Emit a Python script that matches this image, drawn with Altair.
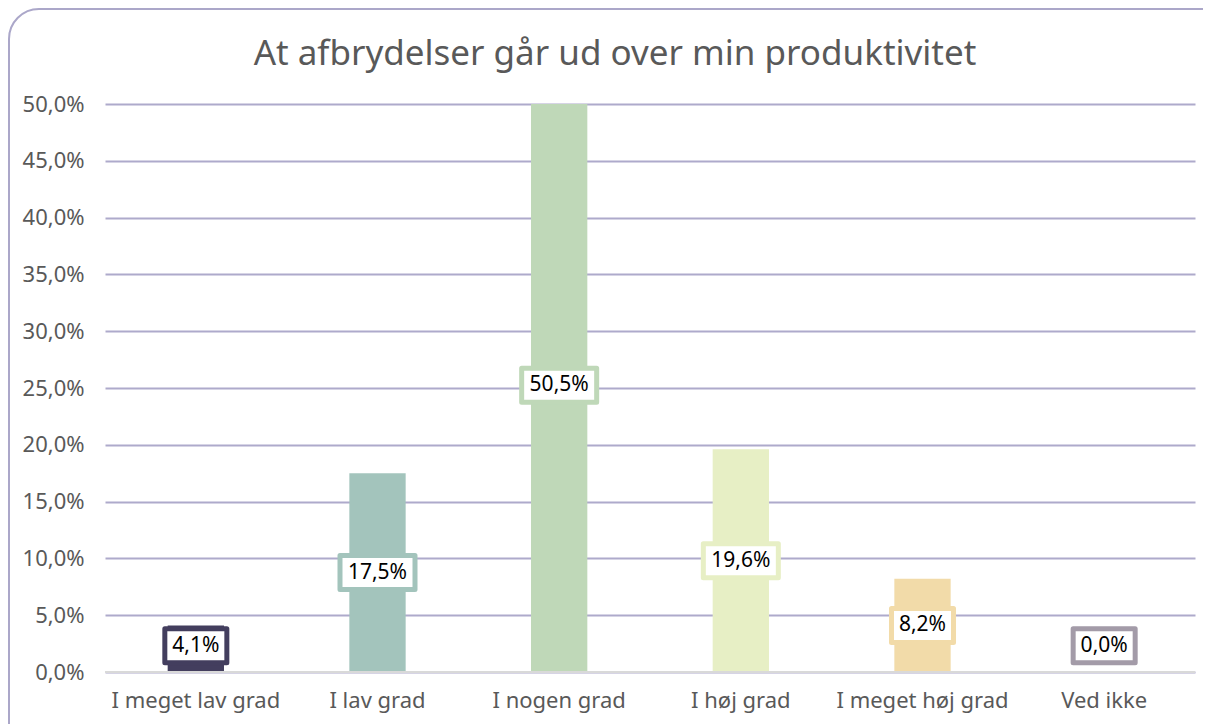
import altair as alt
import pandas as pd

categories = ["I meget lav grad", "I lav grad", "I nogen grad", "I høj grad", "I meget høj grad", "Ved ikke"]
values = [4.1, 17.5, 50.5, 19.6, 8.2, 0.0]
colors = ["#433e5e", "#a3c4bc", "#bfd8b8", "#e7efc5", "#f2dba9", "#a39ba8"]
y_ticks = [0, 5, 10, 15, 20, 25, 30, 35, 40, 45, 50]
title_text = "At afbrydelser går ud over min produktivitet"

FONT = "Noto Sans"
W, H = 1090, 568

df = pd.DataFrame({"cat": categories, "v": values})

xscale = alt.Scale(domain=categories, paddingInner=0.69, paddingOuter=0.345)
yscale = alt.Scale(domain=[0, 50], nice=False)
cscale = alt.Scale(domain=categories, range=colors)

# label boxes: custom rectangle symbols (height 34 + stroke 5)
p4 = "M-1.824,-1 L1.824,-1 L1.824,1 L-1.824,1 Z"
p5 = "M-2.206,-1 L2.206,-1 L2.206,1 L-2.206,1 Z"

base = alt.Chart(df).transform_calculate(
    lab="replace(format(datum.v, '.1f'), '.', ',') + '%'",
    lp="max(datum.v / 2, 2.3)",
).transform_calculate(
    n="toString(length(datum.lab))"
)

bars = base.mark_bar(clip=True).encode(
    x=alt.X("cat:N", scale=xscale, sort=categories,
            axis=alt.Axis(title=None, labelAngle=0, domain=False, ticks=False,
                          labelPadding=18, labelFontSize=22, labelColor="#595959",
                          labelFont=FONT, grid=False)),
    y=alt.Y("v:Q", scale=yscale,
            axis=alt.Axis(title=None, values=y_ticks, domain=False, ticks=False,
                          labelPadding=21, labelFontSize=22, labelColor="#595959",
                          labelFont=FONT, gridColor="#aeaacb", gridWidth=2,
                          labelExpr="replace(format(datum.value, '.1f'), '.', ',') + '%'")),
    color=alt.Color("cat:N", scale=cscale, legend=None),
)

zero = alt.Chart(pd.DataFrame({"z": [0]})).mark_rule(color="#d9d9d9", strokeWidth=2).encode(
    y=alt.Y("z:Q", scale=yscale)
)

boxes = base.mark_point(filled=True, fill="white", opacity=1, fillOpacity=1,
                        strokeWidth=5, size=1156, strokeJoin="round").encode(
    x=alt.X("cat:N", scale=xscale, sort=categories),
    y=alt.Y("lp:Q", scale=yscale),
    stroke=alt.Stroke("cat:N", scale=cscale, legend=None),
    shape=alt.Shape("n:N", scale=alt.Scale(domain=["4", "5"], range=[p4, p5]), legend=None),
)

texts = base.mark_text(fontSize=21, font=FONT, color="black", baseline="middle").encode(
    x=alt.X("cat:N", scale=xscale, sort=categories),
    y=alt.Y("lp:Q", scale=yscale),
    text="lab:N",
)

frame = alt.Chart(pd.DataFrame({"a": [0]})).mark_rect(
    cornerRadius=30, fillOpacity=0, fill="white", stroke="#aba7c9", strokeWidth=2
).encode(
    x=alt.value(-96), x2=alt.value(W + 200), y=alt.value(-95), y2=alt.value(H + 200)
)

chart = alt.layer(frame, bars, zero, boxes, texts).resolve_scale(
    color="independent", stroke="independent"
).properties(
    width=W, height=H,
    title=alt.TitleParams(title_text, font=FONT, fontSize=35, color="#595959",
                          fontWeight="normal", anchor="middle", dx=-35,
                          baseline="alphabetic", offset=-92),
    autosize=alt.AutoSizeParams(type="none"),
    padding={"left": 97, "top": 96, "right": 8, "bottom": 52},
).configure_view(stroke=None)

chart.save("out.html", embed_options={"renderer": "svg", "actions": False})
